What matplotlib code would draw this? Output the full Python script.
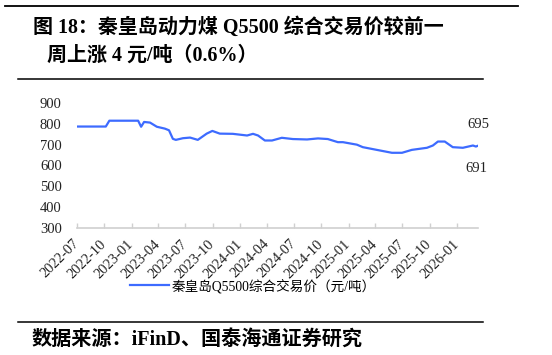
import matplotlib.pyplot as plt
import matplotlib.dates as mdates
from matplotlib.lines import Line2D
import numpy as np
import pandas as pd

plt.rcParams['font.family'] = ['Liberation Serif', 'Noto Sans CJK SC']

# price points (元/吨)
dates = ["2022-07-01", "2022-10-06", "2022-10-18", "2023-01-23", "2023-02-02",
         "2023-02-12", "2023-03-04", "2023-03-27", "2023-04-23", "2023-05-07",
         "2023-05-20", "2023-05-30", "2023-06-23", "2023-07-17", "2023-08-12",
         "2023-09-11", "2023-09-30", "2023-10-25", "2023-12-08", "2024-01-25",
         "2024-02-14", "2024-03-02", "2024-03-25", "2024-04-18", "2024-05-21",
         "2024-06-27", "2024-08-14", "2024-09-20", "2024-10-23", "2024-11-26",
         "2024-12-13", "2025-01-29", "2025-02-18", "2025-04-06", "2025-05-27",
         "2025-06-30", "2025-08-02", "2025-09-22", "2025-10-12", "2025-10-29",
         "2025-11-21", "2025-12-18", "2026-01-21", "2026-02-24", "2026-03-06",
         "2026-03-13"]
price = [787, 787, 815, 815, 786,
         809, 806, 786, 777, 769,
         728, 723, 731, 734, 723,
         753, 766, 753, 752, 744,
         752, 744, 720, 720, 733,
         727, 725, 730, 727, 712,
         712, 700, 688, 675, 661,
         661, 675, 685, 696, 715,
         715, 688, 685, 696, 691,
         695]
series_name = "秦皇岛Q5500综合交易价（元/吨）"
last_labels = [691, 695]

d = pd.to_datetime(dates)

fig = plt.figure(figsize=(5.52, 3.55), dpi=100)
ax = fig.add_axes([77 / 552, 1 - 228 / 355, 401 / 552, 125 / 355])

line, = ax.plot(d, price, color="#3D6BFF", lw=1.6)

ax.set_ylim(300, 900)
ax.set_yticks(range(300, 901, 100))
ax.set_xlim(d[0], d[-1])
ax.xaxis.set_major_locator(mdates.MonthLocator(bymonth=[1, 4, 7, 10]))
ax.xaxis.set_major_formatter(mdates.DateFormatter("%Y-%m"))

for s in ["top", "right", "left"]:
    ax.spines[s].set_visible(False)
ax.spines["bottom"].set_color("#D0D0D0")
ax.spines["bottom"].set_linewidth(1.2)
ax.tick_params(axis="y", length=0, pad=11, labelsize=10.5, labelcolor="#222222")
ax.tick_params(axis="x", direction="in", length=3.5, color="#D0D0D0", width=1,
               pad=10, labelsize=10.5, labelcolor="#222222")
for lbl in ax.get_xticklabels():
    lbl.set_rotation(45)
    lbl.set_ha("right")
    lbl.set_va("center")
    lbl.set_rotation_mode("anchor")

# end labels
ax.annotate(str(last_labels[1]), (d[-1], price[-1]), xytext=(0, 15),
            textcoords="offset points", ha="center", va="center", fontsize=10.5,
            color="#222222")
ax.annotate(str(last_labels[0]), (d[-2], price[-2]), xytext=(0, -16),
            textcoords="offset points", ha="center", va="center", fontsize=10.5,
            color="#222222")

fig.legend([line], [series_name], loc="center",
           bbox_to_anchor=(253 / 552, 1 - 286 / 355), frameon=False,
           fontsize=9.8, handlelength=2.8, handletextpad=0.2)

# title and source
fig.text(33 / 552, 1 - 28 / 355, "图 18：秦皇岛动力煤 Q5500 综合交易价较前一",
         fontsize=14.4, fontweight="bold", va="center", ha="left")
fig.text(47 / 552, 1 - 56 / 355, "周上涨 4 元/吨（0.6%）",
         fontsize=14.4, fontweight="bold", va="center", ha="left")
fig.text(32 / 552, 1 - 340 / 355, "数据来源：iFinD、国泰海通证券研究",
         fontsize=14.5, fontweight="bold", va="center", ha="left")

fig.add_artist(Line2D([5 / 552, 518 / 552], [1 - 6 / 355] * 2, color="black",
                      lw=1.3, transform=fig.transFigure))
fig.add_artist(Line2D([18 / 552, 483 / 552], [1 - 79 / 355] * 2, color="black",
                      lw=1.1, transform=fig.transFigure))
fig.add_artist(Line2D([18 / 552, 483 / 552], [1 - 322 / 355] * 2, color="black",
                      lw=1.1, transform=fig.transFigure))

fig.savefig("out.png", dpi=100)
